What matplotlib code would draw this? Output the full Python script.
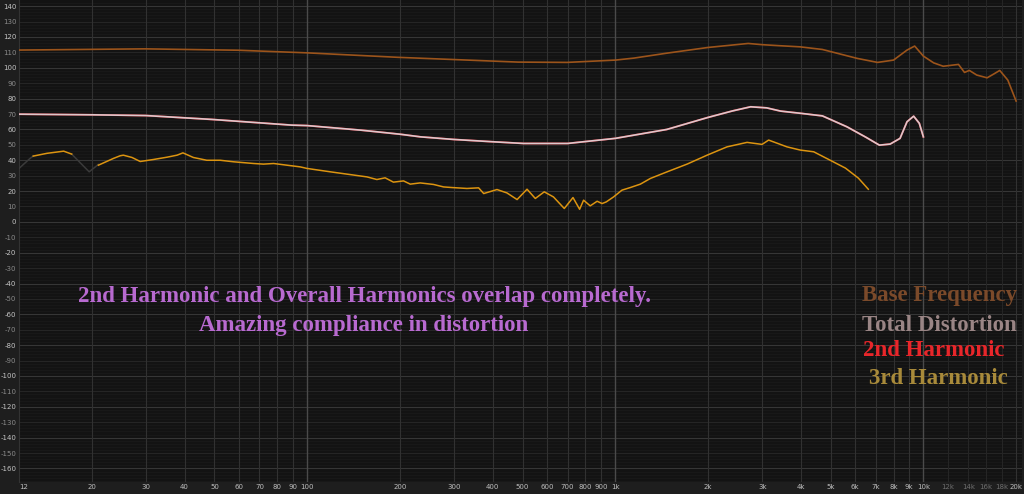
import numpy as np
import matplotlib.pyplot as plt

# values (Hz, dB)
base_freq = [11.5, 29.7, 59.7, 100, 197, 484, 697, 1000, 1150, 1470, 2000, 2700,
             3000, 3440, 3980, 4700, 6100, 7100, 8000, 8850, 9370, 10000, 10800,
             11600, 13000, 13600, 14100, 14900, 16100, 16900, 17700, 18800, 20000]
base_db = [111.5, 112.3, 111.4, 109.7, 106.8, 103.7, 103.5, 105.0, 106.3, 109.5,
           113.2, 115.8, 115.0, 114.3, 113.6, 111.9, 106.1, 103.5, 105.0, 111.5,
           114.1, 107.6, 103.2, 101.0, 102.2, 97.0, 98.3, 95.3, 93.5, 95.9, 98.3,
           92.0, 78.4]

total_freq = [11.5, 20, 30, 49, 89, 100, 150, 200, 233, 299, 400, 504, 700, 1000,
              1470, 2000, 2400, 2750, 3100, 3440, 3980, 4700, 5650, 6500, 7200,
              7800, 8400, 8850, 9300, 9700, 10000]
total_db = [69.9, 69.5, 69.0, 66.5, 62.8, 62.5, 59.5, 56.9, 55.2, 53.5, 52.0, 50.9,
            50.9, 54.2, 60.0, 67.8, 72.0, 74.7, 74.0, 71.9, 70.5, 68.8, 61.7, 55.0,
            49.8, 50.5, 54.2, 65.0, 68.6, 64.0, 55.2]

# 2nd harmonic sits exactly under the total distortion trace
second_freq = total_freq
second_db = total_db

third_freq = [12.9, 14.3, 16.2, 17.2]
third_db = [42.7, 44.5, 45.9, 44.0]
third_freq2 = [21.0, 23.5, 24.7, 25.3, 27.0, 28.7, 31.7, 35.1, 37.8, 39.5, 42.7,
               47.2, 52.2, 57.7, 67, 72.1, 77.8, 85.9, 94.9, 99.8, 118.8, 156.3,
               168.3, 179, 190.5, 205.4, 216, 232.6, 257, 277, 295, 330, 360, 374,
               413, 445, 480, 517, 550, 588, 630, 683, 729, 766, 789, 829, 873,
               906, 935, 987, 1051, 1119, 1206, 1300, 1473, 1710, 1986, 2305,
               2677, 2995, 3146, 3608, 3987, 4406, 4930, 5586, 6153, 6627]
third_db2 = [36.8, 41.2, 42.9, 43.3, 41.8, 39.2, 40.5, 42.0, 43.3, 44.8, 41.8,
             40.0, 40.0, 39.0, 37.9, 37.5, 37.9, 36.8, 35.7, 34.7, 32.5, 29.2,
             27.5, 28.6, 25.8, 26.6, 24.5, 25.3, 24.3, 22.7, 22.3, 21.7, 22.1,
             18.4, 21.0, 18.8, 14.5, 21.2, 15.2, 19.5, 16.2, 8.7, 15.8, 8.2, 14.1,
             10.4, 13.4, 11.9, 13.0, 16.2, 20.6, 22.3, 24.5, 28.2, 32.5, 37.5,
             43.3, 48.7, 51.6, 50.3, 53.1, 48.7, 46.6, 45.5, 40.5, 34.9, 28.4, 21.2]
# low-coherence parts of the 3rd harmonic drawn dark
third_dark_freq = [11.6, 12.6, 12.9]
third_dark_db = [34.7, 41.2, 42.7]
third_dark_freq2 = [17.2, 18.2, 19.6, 21.0]
third_dark_db2 = [44.0, 39.0, 32.5, 37.3]

x_ticks = [12, 20, 30, 40, 50, 60, 70, 80, 90, 100, 200, 300, 400, 500, 600, 700,
           800, 900, 1000, 2000, 3000, 4000, 5000, 6000, 7000, 8000, 9000, 10000,
           12000, 14000, 16000, 18000, 20000]
x_labels = ['12', '20', '30', '40', '50', '60', '70', '80', '90', '100', '200',
            '300', '400', '500', '600', '700', '800', '900', '1k', '2k', '3k', '4k',
            '5k', '6k', '7k', '8k', '9k', '10k', '12k', '14k', '16k', '18k', '20k']
y_ticks = list(range(-160, 141, 10))

fig = plt.figure(figsize=(10.24, 4.94), dpi=100, facecolor='#1e1e1e')
ax = fig.add_axes([19 / 1024, 12.3 / 494, 1003 / 1024, 481.7 / 494])
ax.set_facecolor('#131313')
ax.set_xscale('log')
ax.set_xlim(11.6, 20900)
ax.set_ylim(-168.6, 144)

# grid
for v in range(-168, 144, 2):
    ax.axhline(v, color='#1a1a1a', lw=0.6, zorder=0)
for v in y_ticks:
    c = '#363636' if v % 20 == 0 else '#252525'
    ax.axhline(v, color=c, lw=0.8, zorder=0)
for f in x_ticks[1:]:
    if f in (100, 1000, 10000):
        c, w = '#4a4a4a', 1.0
    elif f > 10000 and f < 20000:
        c, w = '#262626', 0.7
    else:
        c, w = '#313131', 0.8
    ax.axvline(f, color=c, lw=w, zorder=0)

# curves
ax.plot(base_freq, base_db, color='#9c541b', lw=1.2, zorder=3)
ax.plot(second_freq, second_db, color='#c82028', lw=1.35, zorder=3)
ax.plot(total_freq, total_db, color='#dcc8cc', lw=1.2, zorder=4)
ax.plot(third_dark_freq, third_dark_db, color='#3a3a3a', lw=1.1, zorder=3)
ax.plot(third_dark_freq2, third_dark_db2, color='#3a3a3a', lw=1.1, zorder=3)
ax.plot(third_freq, third_db, color='#dc9410', lw=1.1, zorder=3)
ax.plot(third_freq2, third_db2, color='#dc9410', lw=1.1, zorder=3)

# ticks
ax.set_xticks(x_ticks)
ax.set_xticklabels(x_labels)
ax.xaxis.set_minor_locator(plt.NullLocator())
ax.set_yticks(y_ticks)
ax.set_yticklabels([str(v) for v in y_ticks])
ax.tick_params(axis='both', length=0, labelsize=5, pad=2)
for t, f in zip(ax.get_xticklabels(), x_ticks):
    t.set_color('#6e6e6e' if 10000 < f < 20000 else '#bdbdbd')
for t, v in zip(ax.get_yticklabels(), y_ticks):
    t.set_color('#c4c4c4' if v % 20 == 0 else '#8a8a8a')
for s in ax.spines.values():
    s.set_visible(False)
ax.spines['left'].set_visible(True)
ax.spines['left'].set_color('#333333')

# annotation + legend text
serif = dict(family='Liberation Serif', weight='bold', size=16.5)
fig.text(364 / 1024, 1 - 296.7 / 494, '2nd Harmonic and Overall Harmonics overlap completely.',
         color='#b86ad0', ha='center', va='center', **serif)
fig.text(364 / 1024, 1 - 325 / 494, 'Amazing compliance in distortion',
         color='#b86ad0', ha='center', va='center', **serif)
fig.text(861.7 / 1024, 1 - 295 / 494, 'Base Frequency', color='#7b4a2a',
         ha='left', va='center', **serif)
fig.text(861.7 / 1024, 1 - 325 / 494, 'Total Distortion', color='#9a8585',
         ha='left', va='center', **serif)
fig.text(863.3 / 1024, 1 - 351 / 494, '2nd Harmonic', color='#e8262a',
         ha='left', va='center', **serif)
fig.text(869.3 / 1024, 1 - 378 / 494, '3rd Harmonic', color='#a88a3a',
         ha='left', va='center', **serif)

fig.savefig('out.png', dpi=100, facecolor=fig.get_facecolor())
